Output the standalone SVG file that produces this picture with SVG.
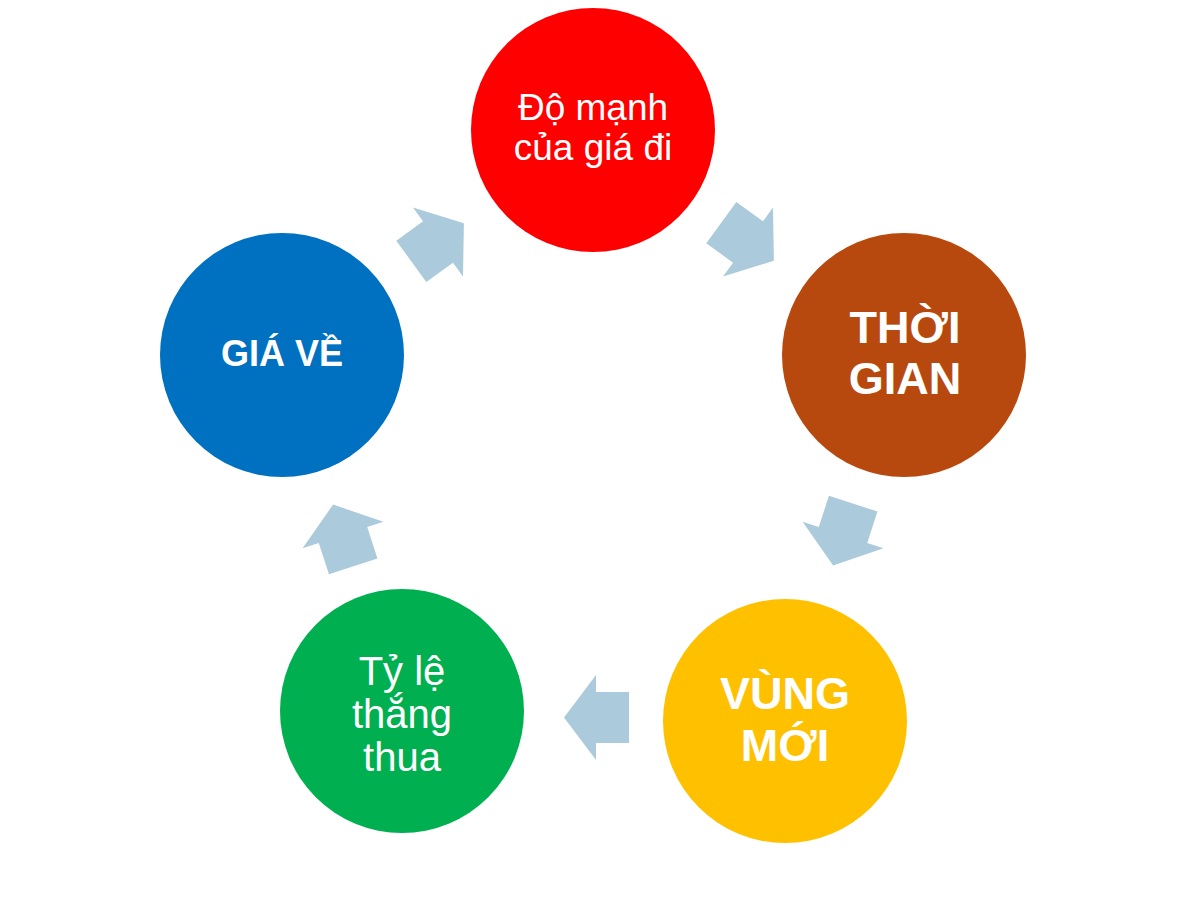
<svg xmlns="http://www.w3.org/2000/svg" width="1185" height="898" viewBox="0 0 1185 898">
<style>
.bold{font-family:"Liberation Sans",Arial,sans-serif;font-weight:bold;fill:#fff;text-anchor:middle}
.reg{font-family:"Liberation Sans",Arial,sans-serif;fill:#fff;text-anchor:middle}
.arrow{fill:#abcbdc}
</style>
<defs>
<polygon id="arr" points="-33,-25.5 0,-25.5 0,-42.5 32,0 0,42.5 0,25.5 -33,25.5"/>
</defs>
<rect width="1185" height="898" fill="#fff"/>
<g id="connectors" class="arrow">
<use href="#arr" transform="translate(438,242) rotate(-36)"/>
<use href="#arr" transform="translate(748,242) rotate(36)"/>
<use href="#arr" transform="translate(843,535) rotate(108)"/>
<use href="#arr" transform="translate(596,717.5) rotate(180)"/>
<use href="#arr" transform="translate(343,535) rotate(-108)"/>
</g>
<g id="node-red">
<circle cx="593" cy="130" r="122" fill="#ff0000"/>
<text class="reg" font-size="37" x="593" y="120">Độ mạnh</text>
<text class="reg" font-size="37" x="593" y="160">của giá đi</text>
</g>
<g id="node-brown">
<circle cx="904" cy="355" r="122" fill="#b8490e"/>
<text class="bold" font-size="45" x="905" y="343">THỜI</text>
<text class="bold" font-size="45" x="905" y="394">GIAN</text>
</g>
<g id="node-yellow">
<circle cx="785" cy="721" r="122" fill="#ffc000"/>
<text class="bold" font-size="45" x="785" y="709">VÙNG</text>
<text class="bold" font-size="45" x="785" y="761">MỚI</text>
</g>
<g id="node-green">
<circle cx="402" cy="711" r="122" fill="#00b050"/>
<text class="reg" font-size="40" x="402" y="685">Tỷ lệ</text>
<text class="reg" font-size="40" x="402" y="728">thắng</text>
<text class="reg" font-size="40" x="402" y="771">thua</text>
</g>
<g id="node-blue">
<circle cx="282" cy="355" r="122" fill="#0070c0"/>
<text class="bold" font-size="36" x="282" y="366">GIÁ VỀ</text>
</g>
</svg>
